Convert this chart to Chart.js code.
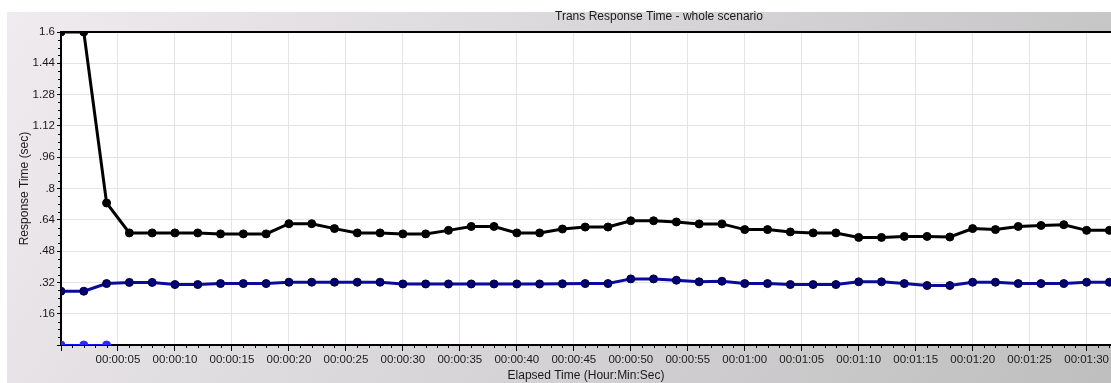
<!DOCTYPE html>
<html><head><meta charset="utf-8">
<script src="https://cdn.jsdelivr.net/npm/chart.js@4"></script>
<style>html,body{margin:0;padding:0;background:#fff;overflow:hidden}canvas{display:block}</style>
</head><body>
<canvas id="c" width="1111" height="383"></canvas>
<script>
const TITLE = 'Trans Response Time - whole scenario';
const X_TITLE = 'Elapsed Time (Hour:Min:Sec)';
const Y_TITLE = 'Response Time (sec)';

const elapsedSec = [0,2,4,6,8,10,12,14,16,18,20,22,24,26,28,30,32,34,36,38,40,42,44,46,48,50,52,54,56,58,60,62,64,66,68,70,72,74,76,78,80,82,84,86,88,90,92];
const seriesBlack = [1.6,1.6,0.726,0.573,0.573,0.573,0.573,0.568,0.568,0.568,0.620,0.620,0.595,0.573,0.573,0.568,0.568,0.586,0.606,0.606,0.573,0.573,0.593,0.603,0.603,0.635,0.635,0.629,0.619,0.619,0.590,0.590,0.578,0.573,0.573,0.550,0.550,0.555,0.555,0.552,0.595,0.590,0.606,0.611,0.615,0.586,0.586];
const seriesBlue = [0.275,0.275,0.314,0.320,0.320,0.309,0.309,0.314,0.314,0.314,0.321,0.321,0.321,0.321,0.321,0.312,0.312,0.312,0.312,0.312,0.312,0.312,0.313,0.314,0.314,0.338,0.338,0.331,0.323,0.326,0.314,0.314,0.309,0.309,0.309,0.323,0.323,0.314,0.304,0.304,0.321,0.321,0.314,0.314,0.314,0.321,0.321];
const lowSec = [0,2,4];
const seriesLow = [0,0,0];

const xTickSec = [0,5,10,15,20,25,30,35,40,45,50,55,60,65,70,75,80,85,90];
const yTickVals = [0,0.16,0.32,0.48,0.64,0.8,0.96,1.12,1.28,1.44,1.6];

const Y_MIN = 0, Y_MAX = 1.6;
const X_MIN = 0, X_MAX = 92.14;

function pts(xs, ys){ return xs.map((x,i)=>({x:x, y:ys[i]})); }
function fmtTime(s){
  const h = Math.floor(s/3600), m = Math.floor((s%3600)/60), sec = Math.round(s%60);
  const p = n => String(n).padStart(2,'0');
  return p(h)+':'+p(m)+':'+p(sec);
}
function fmtY(v){
  if (Math.abs(v) < 1e-9) return '';
  return String(Math.round(v*100)/100).replace(/^0\./,'.');
}

const FONT = 'Liberation Sans, Arial, sans-serif';

const framePlugin = {
  id: 'frame',
  beforeDraw(chart){
    const ctx = chart.ctx, a = chart.chartArea;
    ctx.save();
    ctx.fillStyle = '#ffffff';
    ctx.fillRect(0,0,chart.width,chart.height);
    const g = ctx.createLinearGradient(7,12,1111,700);
    g.addColorStop(0,'#efebef');
    g.addColorStop(1,'#b8b8b8');
    ctx.fillStyle = g;
    ctx.fillRect(7,12,chart.width-7,chart.height-12);
    ctx.fillStyle = '#ffffff';
    ctx.fillRect(a.left,a.top,a.right-a.left,a.bottom-a.top);
    ctx.restore();
  },
  afterDraw(chart){
    const ctx = chart.ctx, a = chart.chartArea;
    const xs = chart.scales.x, ys = chart.scales.y;
    ctx.save();
    ctx.strokeStyle = '#000';
    ctx.lineWidth = 1;
    for (let s = 1; s <= 92; s++){
      if (s % 5 === 0) continue;
      const px = Math.round(xs.getPixelForValue(s)) + 0.5;
      ctx.beginPath(); ctx.moveTo(px, a.bottom); ctx.lineTo(px, a.bottom+3); ctx.stroke();
    }
    for (let k = 1; k < 40; k++){
      if (k % 4 === 0) continue;
      const py = Math.round(ys.getPixelForValue(k*0.04)) + 0.5;
      ctx.beginPath(); ctx.moveTo(a.left-3, py); ctx.lineTo(a.left, py); ctx.stroke();
    }
    ctx.lineWidth = 2;
    ctx.beginPath(); ctx.moveTo(a.left-1, a.top); ctx.lineTo(a.right, a.top); ctx.stroke();
    ctx.fillStyle = '#1a1a1a';
    ctx.font = '12px ' + FONT;
    ctx.textAlign = 'center';
    ctx.textBaseline = 'middle';
    ctx.fillText(TITLE, 659, 16.5);
    ctx.restore();
  }
};

new Chart(document.getElementById('c'), {
  type: 'line',
  data: {
    datasets: [
      { label: 'black', data: pts(elapsedSec, seriesBlack), borderColor: '#000000', borderWidth: 3,
        pointRadius: 4, pointBackgroundColor: '#000000', pointBorderColor: '#000000', pointBorderWidth: 1, tension: 0, clip: 0 },
      { label: 'blue', data: pts(elapsedSec, seriesBlue), borderColor: '#0a0aa0', borderWidth: 3,
        pointRadius: 4, pointBackgroundColor: '#000078', pointBorderColor: '#000030', pointBorderWidth: 1, tension: 0, clip: 0 },
      { label: 'low', data: pts(lowSec, seriesLow), borderColor: '#1010ff', borderWidth: 2,
        pointRadius: 4, pointBackgroundColor: '#2a2aff', pointBorderColor: '#2a2aff', pointBorderWidth: 1, tension: 0, clip: 0 }
    ]
  },
  options: {
    responsive: false,
    animation: false,
    devicePixelRatio: 1,
    layout: { autoPadding: false, padding: { left: 0, right: 0, top: 32, bottom: 0 } },
    plugins: { legend: { display: false }, tooltip: { enabled: false }, title: { display: false } },
    scales: {
      x: {
        type: 'linear',
        min: X_MIN, max: X_MAX,
        afterBuildTicks: s => { s.ticks = xTickSec.map(v => ({ value: v })); },
        afterFit: s => { s.height = 38; s.paddingRight = 0; s.paddingLeft = 0; },
        ticks: {
          color: '#1a1a1a', font: { family: FONT, size: 11.5 }, padding: 2,
          maxRotation: 0, autoSkip: false,
          callback: v => (v === 0 ? '' : fmtTime(v))
        },
        grid: { color: '#e4e4e4', lineWidth: 1, tickColor: '#000', tickLength: 6 },
        border: { color: '#000', width: 2 },
        title: { display: true, text: X_TITLE, color: '#1a1a1a', font: { family: FONT, size: 12 }, padding: { top: 0, bottom: 0 } }
      },
      y: {
        min: Y_MIN, max: Y_MAX,
        afterBuildTicks: s => { s.ticks = yTickVals.map(v => ({ value: v })); },
        afterFit: s => { s.width = 61; },
        ticks: {
          color: '#1a1a1a', font: { family: FONT, size: 11.5 }, padding: 2,
          callback: v => fmtY(v)
        },
        grid: { color: '#e4e4e4', lineWidth: 1, tickColor: '#000', tickLength: 4 },
        border: { color: '#000', width: 2 },
        title: { display: true, text: Y_TITLE, color: '#1a1a1a', font: { family: FONT, size: 12 }, padding: { top: 17, bottom: 0 } }
      }
    }
  },
  plugins: [framePlugin]
});
</script>
</body></html>
